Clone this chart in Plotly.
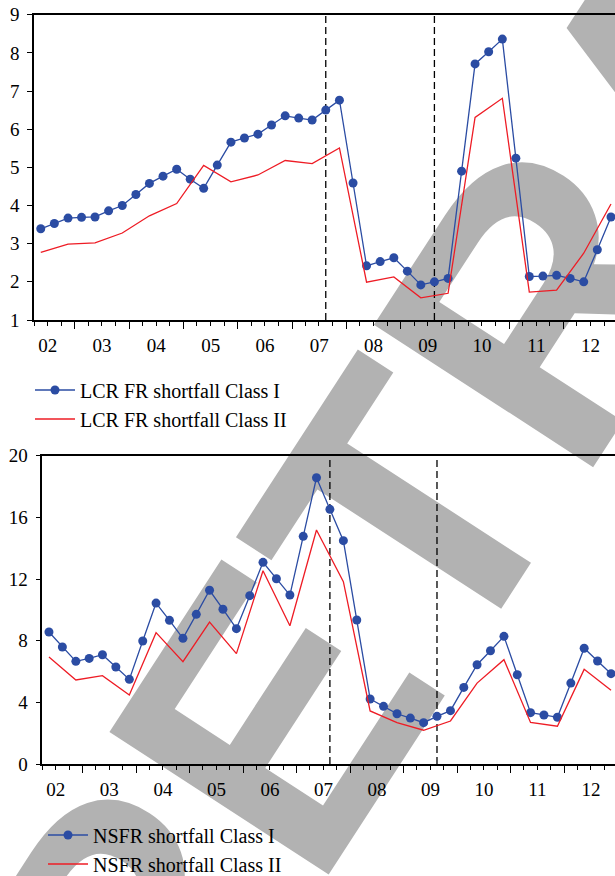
import pandas as pd
import plotly.graph_objects as go

# ---------------- data ----------------
quarters = [f"{y}Q{q}" for y in range(2002, 2013) for q in range(1, 5)][1:]   # 2002Q2 .. 2012Q4
semi_quarters = [q for q in quarters if q.endswith(("Q2", "Q4"))]

lcr_class1 = [3.39, 3.53, 3.67, 3.69, 3.70, 3.86, 4.00, 4.29, 4.58, 4.77,
              4.95, 4.69, 4.45, 5.06, 5.66, 5.77, 5.87, 6.11, 6.35, 6.29,
              6.24, 6.50, 6.76, 4.59, 2.42, 2.53, 2.63, 2.28, 1.92, 2.00,
              2.09, 4.90, 7.71, 8.03, 8.36, 5.24, 2.14, 2.15, 2.17, 2.09,
              2.00, 2.84, 3.70]
lcr_class2 = [2.77, 2.99, 3.02, 3.28, 3.73, 4.05, 5.05, 4.62, 4.80, 5.18, 5.10,
              5.51, 1.99, 2.13, 1.58, 1.70, 6.31, 6.81, 1.73, 1.78, 2.75, 4.04]

nsfr_class1 = [8.56, 7.59, 6.66, 6.85, 7.09, 6.29, 5.49, 7.98, 10.44, 9.32,
               8.15, 9.71, 11.27, 10.04, 8.78, 10.92, 13.08, 12.02, 10.96, 14.77,
               18.57, 16.52, 14.49, 9.34, 4.22, 3.74, 3.26, 2.98, 2.68, 3.09,
               3.46, 4.97, 6.44, 7.35, 8.28, 5.79, 3.33, 3.18, 3.03, 5.25,
               7.51, 6.68, 5.86]
nsfr_class2 = [6.94, 5.45, 5.73, 4.48, 8.52, 6.64, 9.21, 7.16, 12.54, 8.97, 15.18,
               11.83, 3.44, 2.68, 2.19, 2.79, 5.25, 6.77, 2.70, 2.45, 6.14, 4.78]

event_quarters = ["2007Q3", "2009Q3"]

names_top = ["LCR FR shortfall Class I", "LCR FR shortfall Class II"]
names_bottom = ["NSFR shortfall Class I", "NSFR shortfall Class II"]
watermark_text = "RETRACTED"


def qmid(q):
    p = pd.Period(q, "Q")
    return p.start_time + (p.end_time - p.start_time) / 2


x_all = [qmid(q) for q in quarters]
x_semi = [qmid(q) for q in semi_quarters]
x_events = [qmid(q) for q in event_quarters]

BLUE = "#2b4ca3"
RED = "#ee1c25"
FONT = "Liberation Serif"
W, H = 615, 876

fig = go.Figure()

fig.add_trace(go.Scatter(x=x_all, y=lcr_class1, name=names_top[0], mode="lines+markers",
                         line=dict(color=BLUE, width=1.3), marker=dict(size=9, color=BLUE),
                         xaxis="x", yaxis="y", legend="legend"))
fig.add_trace(go.Scatter(x=x_semi, y=lcr_class2, name=names_top[1], mode="lines",
                         line=dict(color=RED, width=1.3),
                         xaxis="x", yaxis="y", legend="legend"))
fig.add_trace(go.Scatter(x=x_all, y=nsfr_class1, name=names_bottom[0], mode="lines+markers",
                         line=dict(color=BLUE, width=1.3), marker=dict(size=9, color=BLUE),
                         xaxis="x2", yaxis="y2", legend="legend2"))
fig.add_trace(go.Scatter(x=x_semi, y=nsfr_class2, name=names_bottom[1], mode="lines",
                         line=dict(color=RED, width=1.3),
                         xaxis="x2", yaxis="y2", legend="legend2"))

tickfont = dict(family=FONT, size=19, color="black")


def xaxis_cfg(left_px, anchor):
    return dict(
        domain=[left_px / W, 1], anchor=anchor, type="date", automargin=False,
        range=["2002-04-01", "2012-12-13"],
        tick0="2002-01-01", dtick="M12", tickformat="%y", ticklabelmode="period",
        ticks="outside", ticklen=7, tickwidth=1, tickcolor="black",
        showline=True, linecolor="black", linewidth=1.5, mirror=True,
        showgrid=False, zeroline=False, tickfont=tickfont,
        minor=dict(tick0="2002-01-01", dtick="M3", ticks="outside", ticklen=4,
                   tickwidth=1, tickcolor="black", showgrid=False),
    )


def yaxis_cfg(top_px, bottom_px, rng, dtick, anchor):
    return dict(
        domain=[1 - bottom_px / H, 1 - top_px / H], anchor=anchor, automargin=False,
        range=rng, dtick=dtick, ticks="outside", ticklen=5, tickwidth=1,
        tickcolor="black", showline=True, linecolor="black", linewidth=1.5,
        showgrid=False, zeroline=False, tickfont=tickfont, ticklabelstandoff=4,
    )


shapes = []
# watermark (real text, drawn beneath everything)
wx, wy = 663, 52
shapes.append(dict(
    type="rect", xref="paper", yref="paper", layer="below",
    x0=(wx - 1) / W, x1=(wx + 1) / W, y0=1 - (wy + 1) / H, y1=1 - (wy - 1) / H,
    line=dict(width=0), fillcolor="rgba(0,0,0,0)",
    label=dict(text=watermark_text, textangle=-57, textposition="middle center",
               font=dict(family="Liberation Sans", size=380, color="#b2b2b2", weight="bold")),
))
for xr in ("x", "x2"):
    yr = "y domain" if xr == "x" else "y2 domain"
    for xe in x_events:
        shapes.append(dict(type="line", xref=xr, yref=yr, x0=xe, x1=xe, y0=0, y1=1,
                           layer="below", line=dict(color="black", width=1.3, dash="7px,4px")))

legend_common = dict(font=dict(family=FONT, size=20, color="black"),
                     bgcolor="rgba(0,0,0,0)", xanchor="left", yanchor="middle",
                     itemwidth=40, tracegroupgap=0)

fig.update_layout(
    width=W, height=H, margin=dict(l=0, r=0, t=0, b=0, autoexpand=False),
    paper_bgcolor="white", plot_bgcolor="rgba(0,0,0,0)",
    xaxis=xaxis_cfg(34, "y"),
    yaxis=yaxis_cfg(14.7, 320, [1, 9], 1, "x"),
    xaxis2=xaxis_cfg(42.3, "y2"),
    yaxis2=yaxis_cfg(455.7, 764, [0, 20], 4, "x2"),
    shapes=shapes,
    legend=dict(x=30 / W, y=1 - 404.5 / H, **legend_common),
    legend2=dict(x=43 / W, y=1 - 849.5 / H, **legend_common),
    showlegend=True,
)

fig.write_html("out.html", config={"displayModeBar": False},
               post_script="document.body.style.margin='0';document.body.style.overflow='hidden';")
